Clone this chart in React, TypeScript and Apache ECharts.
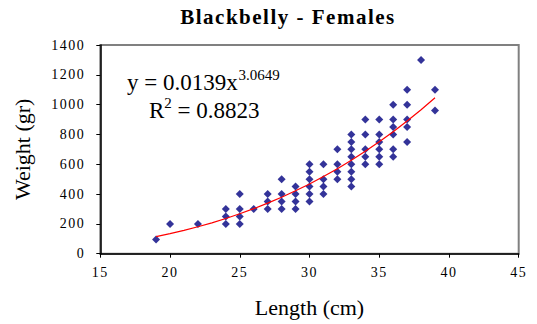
import React, { useEffect, useRef } from "react";
import * as echarts from "echarts";

// Length (cm) columns and the weights (gr) observed at each length
const lengthValues = [19, 20, 22, 24, 25, 26, 27, 28, 29, 30, 31, 32, 33, 34, 35, 36, 37, 38, 39];
const weightsByLength = [
  [95],
  [200],
  [200],
  [300, 250, 200],
  [400, 300, 250, 200],
  [300],
  [400, 350, 300],
  [500, 400, 350, 300],
  [450, 400, 350, 300],
  [600, 550, 500, 450, 400, 350],
  [600, 500, 450, 400],
  [700, 600, 550, 500],
  [800, 750, 700, 650, 600, 550, 500, 450],
  [900, 800, 700, 650, 600],
  [900, 800, 750, 700, 650, 600],
  [1000, 900, 850, 800, 700, 650],
  [1100, 1000, 900, 850, 750],
  [1300],
  [1100, 960],
];

// Power trendline
const trendX = [19, 20, 21, 22, 23, 24, 25, 26, 27, 28, 29, 30, 31, 32, 33, 34, 35, 36, 37, 38, 39];
const trendY = [115, 135, 157, 181, 207, 236, 268, 302, 339, 379, 422, 468, 518, 570, 627, 687, 751, 818, 890, 966, 1046];

const xTicks = { min: 15, max: 45, interval: 5 };
const yTicks = { min: 0, max: 1400, interval: 200 };

const titleText = "Blackbelly - Females";
const xName = "Length (cm)";
const yName = "Weight (gr)";
const eqMain = "y = 0.0139x";
const eqExp = "3.0649";
const r2Base = "R";
const r2Exp = "2";
const r2Rest = " = 0.8823";

const FONT = "Liberation Serif";

export default function App() {
  const ref = useRef<HTMLDivElement>(null);

  useEffect(() => {
    document.body.style.margin = "0";
    if (!ref.current) return;
    const chart = echarts.init(ref.current, undefined, { renderer: "svg" });

    const points: number[][] = [];
    lengthValues.forEach((len, i) => {
      weightsByLength[i].forEach((w) => points.push([len, w]));
    });
    const trend = trendX.map((x, i) => [x, trendY[i]]);

    chart.setOption({
      animation: false,
      backgroundColor: "#ffffff",
      textStyle: { fontFamily: FONT },
      title: {
        text: titleText,
        left: 288,
        textAlign: "center",
        top: 6,
        padding: 0,
        textStyle: { fontFamily: FONT, fontWeight: "bold", fontSize: 21, color: "#000" },
      },
      grid: {
        left: 100.3,
        right: 18.3,
        top: 45,
        bottom: 70.3,
        show: true,
        borderColor: "#808080",
        borderWidth: 2,
        backgroundColor: "transparent",
      },
      xAxis: {
        type: "value",
        min: xTicks.min,
        max: xTicks.max,
        interval: xTicks.interval,
        name: xName,
        nameLocation: "middle",
        nameGap: 43,
        nameTextStyle: { fontFamily: FONT, fontSize: 22, color: "#000" },
        axisLine: { show: true, onZero: false, lineStyle: { color: "#000", width: 1.5 } },
        axisTick: { show: true, inside: false, length: 4, lineStyle: { color: "#000", width: 1 } },
        axisLabel: { fontFamily: FONT, fontSize: 14, color: "#000", margin: 12, formatter: (v: number) => String(v) },
        splitLine: { show: false },
      },
      yAxis: {
        type: "value",
        min: yTicks.min,
        max: yTicks.max,
        interval: yTicks.interval,
        name: yName,
        nameLocation: "middle",
        nameGap: 67,
        nameTextStyle: { fontFamily: FONT, fontSize: 22, color: "#000" },
        axisLine: { show: true, onZero: false, lineStyle: { color: "#000", width: 1.5 } },
        axisTick: { show: true, inside: false, length: 4, lineStyle: { color: "#000", width: 1 } },
        axisLabel: { fontFamily: FONT, fontSize: 14, color: "#000", margin: 15, formatter: (v: number) => String(v) },
        splitLine: { show: false },
      },
      series: [
        {
          type: "scatter",
          data: points,
          symbol: "diamond",
          symbolSize: 8,
          itemStyle: { color: "#000080" },
          z: 2,
        },
        {
          type: "line",
          data: trend,
          showSymbol: false,
          symbol: "none",
          lineStyle: { color: "#ff0000", width: 1.2 },
          z: 3,
        },
      ],
      graphic: [
        {
          type: "text",
          x: 127,
          y: 82.7,
          style: { text: eqMain, font: `23px ${FONT}`, fill: "#000", verticalAlign: "middle", align: "left" },
        },
        {
          type: "text",
          x: 238.5,
          y: 75,
          style: { text: eqExp, font: `15px ${FONT}`, fill: "#000", verticalAlign: "middle", align: "left" },
        },
        {
          type: "text",
          x: 149,
          y: 110.2,
          style: { text: r2Base, font: `23px ${FONT}`, fill: "#000", verticalAlign: "middle", align: "left" },
        },
        {
          type: "text",
          x: 164.3,
          y: 103,
          style: { text: r2Exp, font: `15px ${FONT}`, fill: "#000", verticalAlign: "middle", align: "left" },
        },
        {
          type: "text",
          x: 171.8,
          y: 110.2,
          style: { text: r2Rest, font: `23px ${FONT}`, fill: "#000", verticalAlign: "middle", align: "left" },
        },
      ],
    });

    return () => chart.dispose();
  }, []);

  return (
    <>
      <style>{`
        .chart-root text { font-family: 'Liberation Serif', serif !important; }
        .chart-root text[style*="14px"] { letter-spacing: 1.5px; }
        .chart-root text[style*="21px"] { letter-spacing: 1.5px; }
      `}</style>
      <div className="chart-root" ref={ref} style={{ width: 537, height: 324 }} />
    </>
  );
}
